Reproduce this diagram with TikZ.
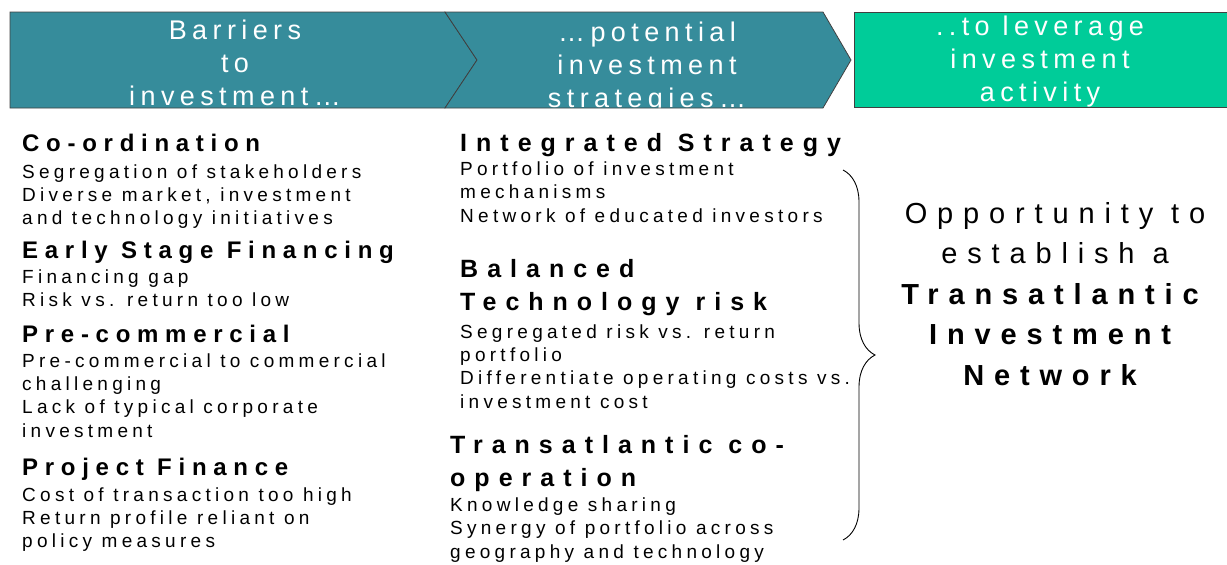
\documentclass[tikz,border=0pt]{standalone}
\usepackage{fontspec}
\setmainfont{Liberation Sans}
% tracked faces, one per kind of text
\newfontfamily\bannerfont{Liberation Sans}[LetterSpace=20,Ligatures=NoCommon]
\newfontfamily\barrierfont{Liberation Sans}[LetterSpace=28,Ligatures=NoCommon]
\newfontfamily\strategyfont{Liberation Sans}[LetterSpace=36,Ligatures=NoCommon]
\newfontfamily\listfont{Liberation Sans}[LetterSpace=22.5,Ligatures=NoCommon]
\newfontfamily\goalfont{Liberation Sans}[LetterSpace=34,Ligatures=NoCommon]
\usetikzlibrary
  {
    decorations.pathreplacing, % the curly brace
  }

\definecolor{petrol}{RGB}{54,140,155}
\definecolor{mint}{RGB}{0,204,153}

% header shapes
\def\barriershape{(10,12) -- (445,12) -- (477,60) -- (445,108) -- (10,108) -- cycle}
\def\strategyshape{(445,12) -- (823,12) -- (851,60) -- (823,108) -- (445,108) -- (477,60) -- cycle}
\def\goalshape{(854,12) -- (1227,12) -- (1227,107) -- (854,107) -- cycle}

\begin{document}
\begin{tikzpicture}
    [
      x=1pt, y=-1pt,
      % Styles (multi-line nodes sit on the baseline of their last line)
      outline/.style={draw=black!75, line width=0.8pt},
      banner/.style={text=white, inner sep=0pt, anchor=base, align=center,
        font=\bannerfont\fontsize{27}{33}\selectfont},
      barrier/.style={inner sep=0pt, anchor=base west,
        font=\barrierfont\bfseries\fontsize{24}{30}\selectfont},
      strategy/.style={inner sep=0pt, anchor=base west, align=left,
        font=\strategyfont\bfseries\fontsize{25}{33}\selectfont},
      detail/.style={inner sep=0pt, anchor=base west, align=left,
        font=\listfont\fontsize{19}{23.3}\selectfont},
      goal/.style={inner sep=0pt, anchor=base, align=center,
        font=\goalfont\fontsize{29}{40.5}\selectfont}
    ]

    \useasboundingbox (0,0) rectangle (1227,565);

    % header arrows, text cut off at the shape edge
    \begin{scope}
      \clip \barriershape;
      \fill [petrol] \barriershape;
      \node [banner] (barriers) at (235,105) {Barriers\\to\\investment…};
    \end{scope}
    \draw [outline] \barriershape;

    \begin{scope}
      \clip \strategyshape;
      \fill [petrol] \strategyshape;
      \node [banner] (strategies) at (647,107) {…potential\\investment\\strategies…};
    \end{scope}
    \draw [outline] \strategyshape;

    \begin{scope}
      \clip \goalshape;
      \fill [mint] \goalshape;
      \node [banner] (leverage) at (1040,101) {..to leverage\\investment\\activity};
    \end{scope}
    \draw [outline] \goalshape;

    % barriers
    \node [barrier] (coordination) at (22,151) {Co-ordination};
    \node [detail] (coordination text) at (22,224.6)
      {Segregation of stakeholders\\Diverse market, investment\\and technology initiatives};
    \node [barrier] (early stage) at (22,258) {Early Stage Financing};
    \node [detail] (early stage text) at (22,306.3)
      {Financing gap\\Risk vs. return too low};
    \node [barrier] (precommercial) at (22,342) {Pre-commercial};
    \node [detail] (precommercial text) at (22,437)
      {Pre-commercial to commercial\\challenging\\Lack of typical corporate\\investment};
    \node [barrier] (project finance) at (22,475) {Project Finance};
    \node [detail] (project finance text) at (22,547.6)
      {Cost of transaction too high\\Return profile reliant on\\policy measures};

    % strategies
    \node [strategy] (integrated) at (460,151) {Integrated Strategy};
    \node [detail] (integrated text) at (460,222)
      {Portfolio of investment\\mechanisms\\Network of educated investors};
    \node [strategy] (balanced) at (460,310.5) {Balanced\\Technology risk};
    \node [detail] (balanced text) at (460,408)
      {Segregated risk vs. return\\portfolio\\Differentiate operating costs vs.\\investment cost};
    \node [strategy] (transatlantic) at (450,486) {Transatlantic co-\\operation};
    \node [detail] (transatlantic text) at (450,558)
      {Knowledge sharing\\Synergy of portfolio across\\geography and technology};

    % brace gathering the strategies
    \coordinate (brace top) at (843,170);
    \coordinate (brace bottom) at (843,540);
    \draw [line width=0.9pt, decorate, decoration={brace, amplitude=32pt}]
      (brace top) -- (brace bottom);

    \node [goal] (opportunity) at (1055,385)
      {Opportunity to\\establish a\\\textbf{Transatlantic}\\\textbf{Investment}\\\textbf{Network}};
  \end{tikzpicture}
\end{document}
